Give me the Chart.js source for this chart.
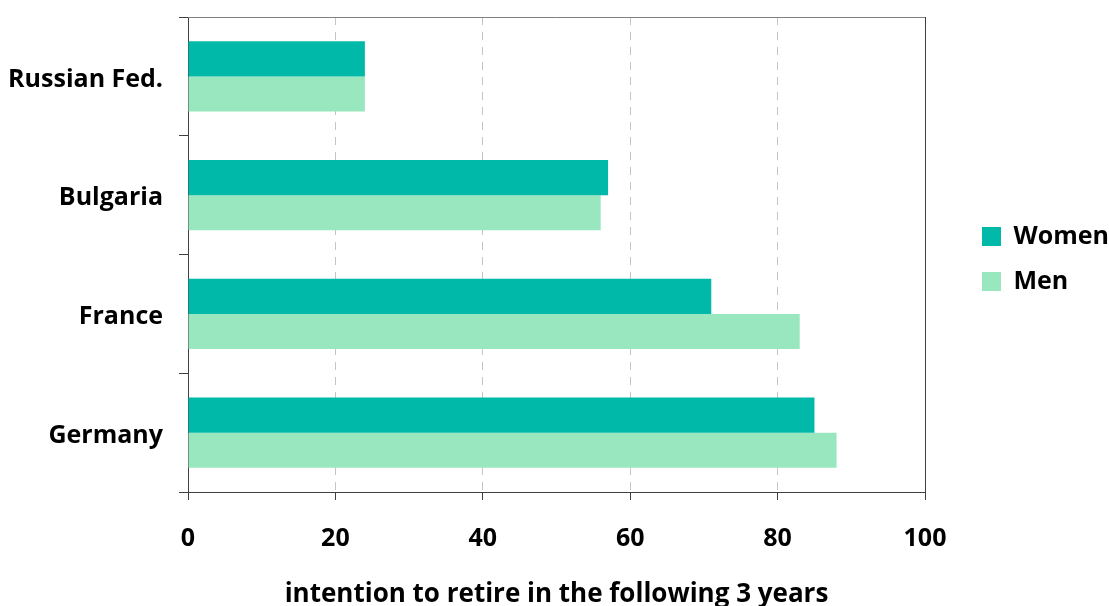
<!DOCTYPE html>
<html>
<head>
<meta charset="utf-8">
<script src="https://cdn.jsdelivr.net/npm/chart.js@4.4.1/dist/chart.umd.min.js"></script>
<style>
  html, body { margin: 0; padding: 0; background: #fff; }
  #wrap { width: 1109px; height: 606px; }
</style>
</head>
<body>
<div id="wrap"><canvas id="c" width="1109" height="606"></canvas></div>
<script>
const categories = ["Russian Fed.", "Bulgaria", "France", "Germany"];
const women = [24, 57, 71, 85];
const men = [24, 56, 83, 88];
const xTicks = [0, 20, 40, 60, 80, 100];
const axisTitle = "intention to retire in the following 3 years";

const FONT = "'Open Sans', 'DejaVu Sans', sans-serif";

const frame = {
  id: 'frame',
  afterDatasetsDraw(chart) {
    const {ctx, chartArea: a} = chart;
    ctx.save();
    ctx.strokeStyle = '#7f7f7f';
    ctx.lineWidth = 1;
    ctx.beginPath();
    ctx.moveTo(a.left, a.top + 0.5);
    ctx.lineTo(a.right, a.top + 0.5);
    ctx.stroke();
    ctx.strokeStyle = '#404040';
    ctx.beginPath();
    ctx.moveTo(a.right + 0.5, a.top);
    ctx.lineTo(a.right + 0.5, a.bottom + 8);
    ctx.stroke();
    ctx.restore();
  }
};

new Chart(document.getElementById('c'), {
  type: 'bar',
  data: {
    labels: categories,
    datasets: [
      { label: 'Women', data: women, backgroundColor: '#00B9A8', borderWidth: 0,
        categoryPercentage: 0.59, barPercentage: 1.0 },
      { label: 'Men', data: men, backgroundColor: '#98E7BE', borderWidth: 0,
        categoryPercentage: 0.59, barPercentage: 1.0 }
    ]
  },
  options: {
    indexAxis: 'y',
    responsive: false,
    animation: false,
    layout: { padding: { top: 17, right: 0, bottom: 0, left: 0 } },
    plugins: {
      legend: {
        position: 'right',
        fullSize: false,
        maxWidth: 147,
        title: { display: true, text: ' ', font: { size: 5 }, padding: { top: 0, bottom: 3 } },
        labels: {
          boxWidth: 19, boxHeight: 19, padding: 20, color: '#000',
          font: { family: FONT, size: 25, weight: 'bold' }
        }
      },
      tooltip: { enabled: false }
    },
    scales: {
      x: {
        min: 0, max: 100,
        afterBuildTicks(scale) { scale.ticks = xTicks.map(v => ({ value: v })); },
        afterFit(scale) { scale.height = 114; },
        border: { display: true, color: '#404040', width: 1, dash: [8, 7] },
        grid: {
          color: (c) => (c.tick && (c.tick.value === 0 || c.tick.value === 100)) ? 'rgba(0,0,0,0)' : '#c4c4c4',
          lineWidth: 1, drawTicks: true, tickLength: 8, tickColor: '#404040', tickBorderDash: [0, 0]
        },
        ticks: { color: '#000', padding: 24, font: { family: FONT, size: 25, weight: 'bold' } },
        title: {
          display: true, text: axisTitle, color: '#000',
          font: { family: FONT, size: 26, weight: 'bold' }, padding: { top: 0, bottom: -4 }
        }
      },
      y: {
        afterFit(scale) { scale.width = 188; scale.paddingTop = 0; scale.paddingBottom = 0; },
        border: { display: true, color: '#404040', width: 1 },
        grid: { drawOnChartArea: false, drawTicks: true, tickLength: 9, tickColor: '#404040', offset: true },
        ticks: { color: '#000', padding: 16, labelOffset: 3, font: { family: FONT, size: 25, weight: 'bold' } }
      },
      gap: {
        type: 'linear', axis: 'y', position: 'right', display: true,
        afterFit(scale) { scale.width = 37; },
        border: { display: false },
        grid: { display: false },
        ticks: { display: false }
      }
    }
  },
  plugins: [frame]
});
</script>
</body>
</html>
